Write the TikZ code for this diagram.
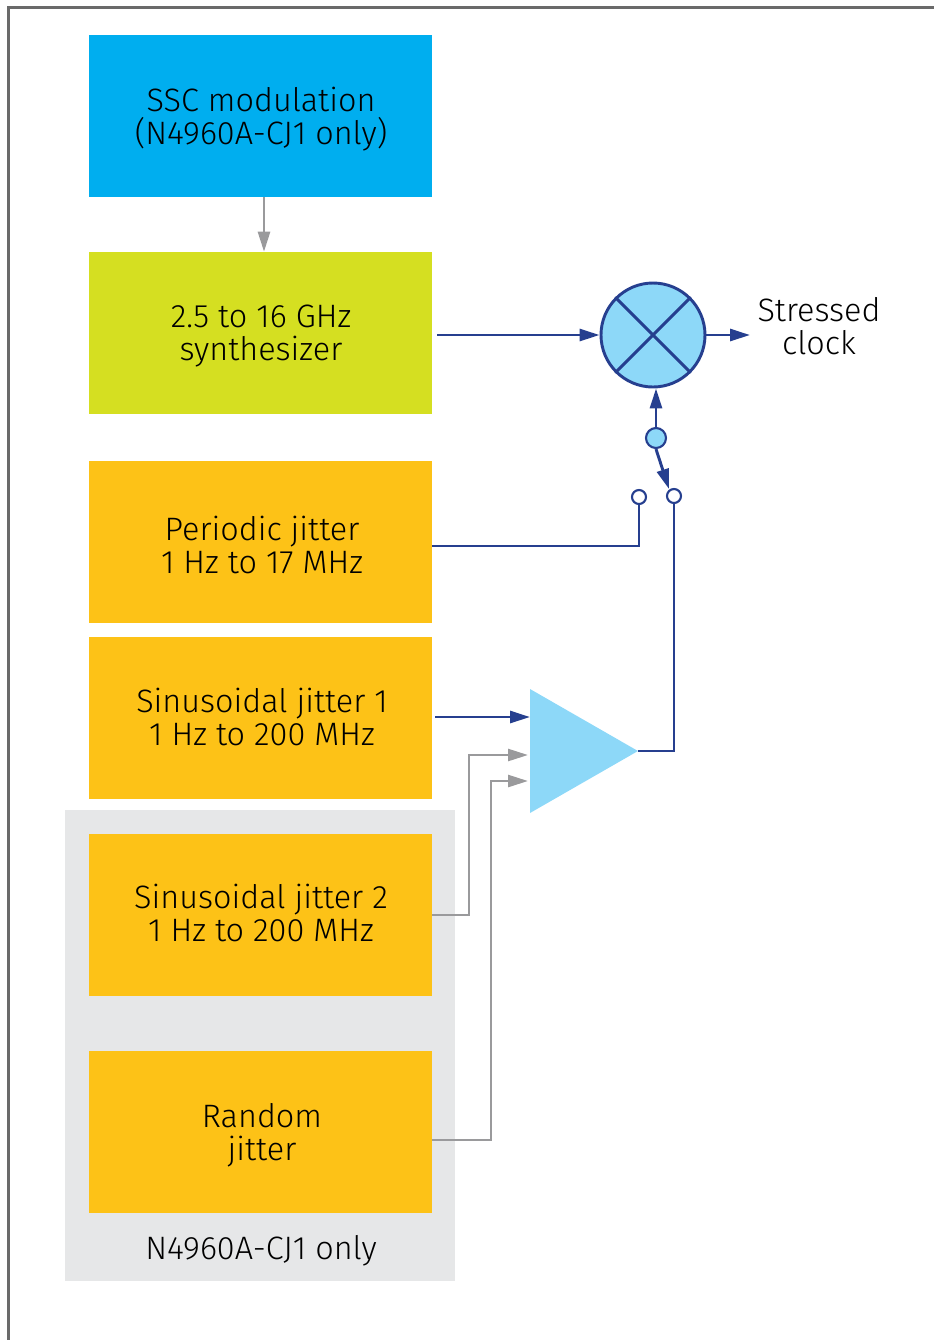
\documentclass[tikz,border=0pt]{standalone}
\usepackage{fontspec}
\setmainfont{Fira Sans}[UprightFont={* Light}]
\usetikzlibrary{arrows.meta}
\definecolor{sscblue}{HTML}{00AEEF}
\definecolor{synthgreen}{HTML}{D5DF21}
\definecolor{jitorange}{HTML}{FDC217}
\definecolor{panelgray}{HTML}{E6E7E8}
\definecolor{lightblue}{HTML}{8DD8F8}
\definecolor{darkblue}{HTML}{263F8F}
\definecolor{linegray}{HTML}{9A9A9C}
\definecolor{framegray}{HTML}{6A6A6A}
\tikzset{
  box/.style={draw=none, minimum width=343*0.75pt, minimum height=162*0.75pt, inner sep=0pt},
  bluearrow/.style={draw=darkblue, line width=2.2pt, -{Triangle[length=15pt,width=9pt]}},
  blueline/.style={draw=darkblue, line width=2.2pt},
  grayarrow/.style={draw=linegray, line width=1.9pt, -{Triangle[length=15pt,width=9pt]}},
  grayline/.style={draw=linegray, line width=1.9pt},
  contact/.style={circle, draw=darkblue, line width=1.6pt, fill=white, minimum size=14*0.75pt, inner sep=0pt},
  lbl/.style={align=center, font=\fontsize{24.3}{24.75}\selectfont, inner sep=0pt}
}
\begin{document}
\begin{tikzpicture}[x=0.75pt, y=-0.75pt]
\useasboundingbox (0,0) rectangle (933,1340);
% frame
\draw[framegray, line width=1.8pt] (8.5,1345) -- (8.5,7.5) -- (940,7.5);
% panel
\fill[panelgray] (65,810) rectangle (455,1281);
\node[lbl] (panellbl) at (261,1251) {N4960A-CJ1 only};
% boxes
\node[box, fill=sscblue] (ssc) at (260.5,116) {};
\node[box, fill=synthgreen] (synth) at (260.5,333) {};
\node[box, fill=jitorange] (pj) at (260.5,542) {};
\node[box, fill=jitorange] (sj1) at (260.5,718) {};
\node[box, fill=jitorange] (sj2) at (260.5,915) {};
\node[box, fill=jitorange] (rj) at (260.5,1132) {};
\node[lbl] (ssctxt) at (261,119) {SSC modulation\\(N4960A-CJ1 only)};
\node[lbl] (synthtxt) at (261,336) {2.5 to 16 GHz\\synthesizer};
\node[lbl] (pjtxt) at (262,545) {Periodic jitter\\1 Hz to 17 MHz};
\node[lbl] (sj1txt) at (262,717) {Sinusoidal jitter 1\\1 Hz to 200 MHz};
\node[lbl] (sj2txt) at (261,913) {Sinusoidal jitter 2\\1 Hz to 200 MHz};
\node[lbl] (rjtxt) at (262,1135) {Random\\jitter};
% mixer
\node[circle, draw=darkblue, line width=2.2pt, fill=lightblue, minimum size=104*0.75pt, inner sep=0pt] (mix) at (653,335) {};
\draw[darkblue, line width=2.2pt] (mix.45) -- (mix.225) (mix.135) -- (mix.315);
\node[lbl] (out) at (819,326) {Stressed\\clock};
\coordinate (outend) at (750,335);
\draw[bluearrow] (mix.east) -- (outend);
\coordinate (synthout) at (437,335);
\draw[bluearrow] (synthout) -- (mix.west);
% switch
\node[circle, draw=darkblue, line width=1.6pt, fill=lightblue, minimum size=20*0.75pt, inner sep=0pt] (pivot) at (656,438) {};
\draw[bluearrow] (pivot.north) -- (mix.south -| pivot.north);
\node[contact] (c1) at (639,497) {};
\node[contact] (c2) at (674,496) {};
\coordinate (swtip) at (669,489);
\draw[bluearrow] (pivot.south) -- (swtip);
% periodic jitter
\draw[blueline] (pj.east |- 0,546) -- (639,546) -- (c1.south);
% amplifier
\coordinate (ampA) at (530,689);
\coordinate (ampB) at (530,813);
\coordinate (ampC) at (638,751);
\fill[lightblue] (ampA) -- (ampC) -- (ampB) -- cycle;
\draw[blueline] (ampC) -- (674,751) -- (c2.south);
\coordinate (in1) at (530,717);
\coordinate (in2) at (528,755);
\coordinate (in3) at (528,781);
\coordinate (sj1out) at (435,717);
\draw[bluearrow] (sj1out) -- (in1);
\draw[grayarrow] (sj2.east |- 0,915) -- (469,915) -- (469,755) -- (in2);
\draw[grayarrow] (rj.east |- 0,1140) -- (491,1140) -- (491,781) -- (in3);
% ssc -> synth
\draw[grayarrow] (ssc.south -| 264,0) -- (synth.north -| 264,0);
\end{tikzpicture}
\end{document}
